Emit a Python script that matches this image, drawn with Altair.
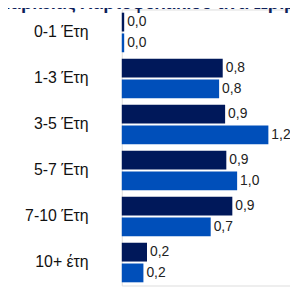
import altair as alt
import pandas as pd

categories = ["0-1 Έτη", "1-3 Έτη", "3-5 Έτη", "5-7 Έτη", "7-10 Έτη", "10+ έτη"]
series_names = ["A", "B"]
series_a = [0.02, 0.84, 0.86, 0.87, 0.92, 0.21]
series_b = [0.02, 0.81, 1.22, 0.96, 0.74, 0.18]
colors = ["#00185a", "#004fba"]

rows = []
for c, a, b in zip(categories, series_a, series_b):
    rows.append({"cat": c, "series": series_names[0], "value": a})
    rows.append({"cat": c, "series": series_names[1], "value": b})
df = pd.DataFrame(rows)

y_enc = alt.Y("cat:N", sort=categories,
              scale=alt.Scale(paddingInner=0.14, paddingOuter=0.07),
              axis=alt.Axis(title=None, domain=False, ticks=False, labelPadding=34,
                            labelFontSize=16, labelFont="Liberation Sans",
                            labelColor="#111111", labelLimit=200))
yoff = alt.YOffset("series:N", sort=series_names,
                   scale=alt.Scale(paddingInner=0.095, paddingOuter=0))
x_enc = alt.X("value:Q", scale=alt.Scale(domain=[0, 1.4], nice=False),
              axis=None)

base = alt.Chart(df).encode(y=y_enc, yOffset=yoff, x=x_enc)

bars = base.mark_bar(size=19).encode(
    color=alt.Color("series:N", sort=series_names,
                    scale=alt.Scale(domain=series_names, range=colors), legend=None)
)
labels = base.mark_text(align="left", baseline="middle", dx=3, fontSize=14,
                        font="Liberation Sans", color="#222222").encode(
    text=alt.Text("value:Q", format=".1f")
)

chart = (bars + labels).properties(
    width=170, height=279,
    autosize=alt.AutoSizeParams(type="none"),
    padding={"left": 115, "top": 0, "right": 0, "bottom": 0},
    title=alt.TitleParams("Κατανομή Διάρκειας Χαρτοφυλακίου ανά Ωρίμανση (έτη)", fontSize=18,
                          font="Liberation Sans", fontWeight="bold", color="#0e1f5b",
                          anchor="start", dx=-122, offset=-4),
).configure_view(stroke=None).configure(
    locale={"number": {"decimal": ",", "thousands": ".", "grouping": [3], "currency": ["", "€"]}}
)

chart.save("out.html", embed_options={"renderer": "svg", "actions": False})
